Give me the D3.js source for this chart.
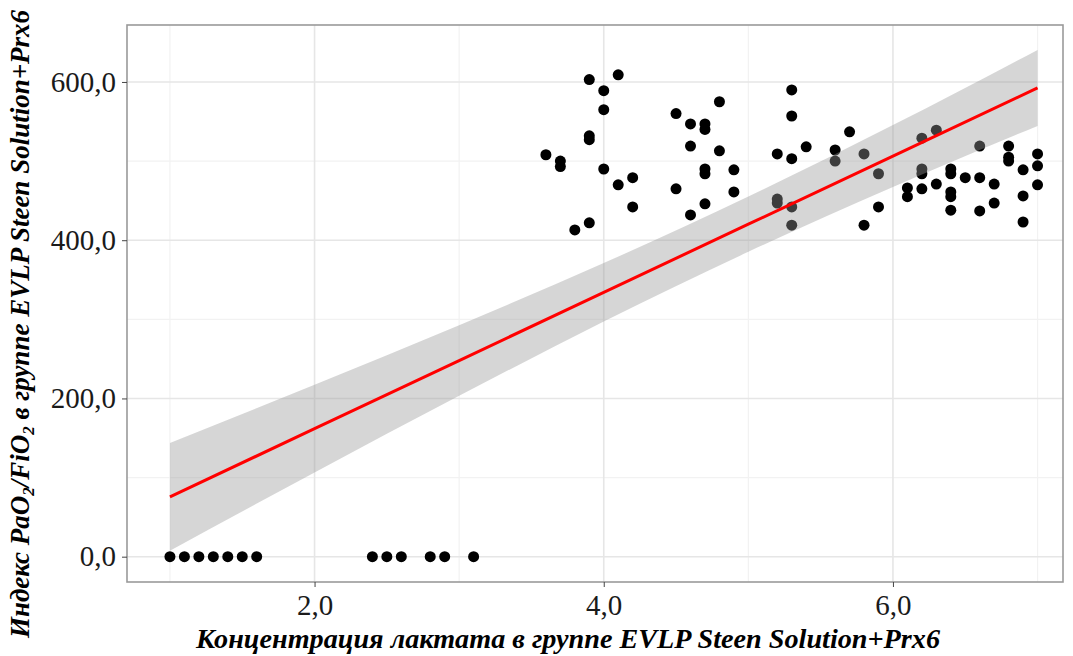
<!DOCTYPE html>
<html><head><meta charset="utf-8">
<script src="https://cdn.jsdelivr.net/npm/d3@7"></script>
<style>body{margin:0;background:#fff}</style>
</head><body>
<svg id="c" width="1073" height="656"></svg>
<script>
// Lactate concentration (x) and PaO2/FiO2 index (y)
const lactate = [
 1.0,1.1,1.2,1.3,1.4,1.5,1.6, 2.4,2.5,2.6, 2.8,2.9, 3.1,
 3.9,4.1,4.0,4.0,3.9,3.9,3.6,3.7,3.7,4.0,4.1,4.2,4.2,3.9,3.8,
 4.8,4.5,4.6,4.7,4.7,4.6,4.8,4.7,4.7,4.9,4.5,4.9,4.7,4.6,
 5.3,5.3,5.7,5.4,5.2,5.3,5.6,5.6,5.8,5.9,5.2,5.2,5.3,5.9,5.3,5.8,
 6.2,6.3,6.2,6.2,6.4,6.4,6.5,6.1,6.1,6.2,6.3,6.4,6.4,6.4,
 6.6,6.8,6.8,6.8,7.0,7.0,6.9,6.6,6.7,7.0,6.7,6.6,6.9,6.9
];
const pfIndex = [
 0,0,0,0,0,0,0, 0,0,0, 0,0, 0,
 603,609,589,565,532,527,508,500,493,490,470,479,442,422,413,
 575,560,547,547,540,519,513,490,484,489,465,461,446,432,
 590,557,537,518,509,503,514,500,509,484,452,447,442,442,419,419,
 529,539,490,484,490,484,479,466,455,465,471,461,455,438,
 519,519,505,500,509,494,489,479,471,470,447,437,456,423
];
// fitted regression line and 95% confidence band
const fitX  = [1, 2, 3, 4, 5, 6, 7];
const fitY  = [75.6, 161.8, 247.9, 334.1, 420.2, 506.4, 592.5];
const bandLo = [7.6, 106.4, 203.3, 297.1, 385.3, 467.3, 544.5];
const bandHi = [143.6, 217.2, 292.5, 371.1, 455.1, 545.5, 640.5];
const xTicks = [2, 4, 6];
const yTicks = [0, 200, 400, 600];
const xMinor = [1, 3, 5, 7];
const yMinor = [100, 300, 500];
const fmt = d => d.toFixed(1).replace('.', ',');

const svg = d3.select('#c');
const L = 127, R = 1063, T = 25, B = 582;
const x = d3.scaleLinear().domain([0.703, 7.176]).range([L, R]);
const y = d3.scaleLinear().domain([-32, 672]).range([B, T]);

const g = svg.append('g');
// grid
g.selectAll('.vmin').data(xMinor).join('line')
 .attr('x1', d => x(d)).attr('x2', d => x(d)).attr('y1', T).attr('y2', B)
 .attr('stroke', '#f2f2f2').attr('stroke-width', 1.2);
g.selectAll('.hmin').data(yMinor).join('line')
 .attr('x1', L).attr('x2', R).attr('y1', d => y(d)).attr('y2', d => y(d))
 .attr('stroke', '#f2f2f2').attr('stroke-width', 1.2);
g.selectAll('.vmaj').data(xTicks).join('line')
 .attr('x1', d => x(d)).attr('x2', d => x(d)).attr('y1', T).attr('y2', B)
 .attr('stroke', '#e6e6e6').attr('stroke-width', 1.6);
g.selectAll('.hmaj').data(yTicks).join('line')
 .attr('x1', L).attr('x2', R).attr('y1', d => y(d)).attr('y2', d => y(d))
 .attr('stroke', '#e6e6e6').attr('stroke-width', 1.6);

// points
g.selectAll('circle').data(lactate.map((v, i) => [v, pfIndex[i]])).join('circle')
 .attr('cx', d => x(d[0])).attr('cy', d => y(d[1])).attr('r', 5.5).attr('fill', '#000');

// band
const band = fitX.map((v, i) => [v, bandLo[i], bandHi[i]]);
g.append('path').datum(band)
 .attr('d', d3.area().x(d => x(d[0])).y0(d => y(d[1])).y1(d => y(d[2])).curve(d3.curveMonotoneX))
 .attr('fill', '#999999').attr('fill-opacity', 0.4);
// line
g.append('path').datum(fitX.map((v, i) => [v, fitY[i]]))
 .attr('d', d3.line().x(d => x(d[0])).y(d => y(d[1])))
 .attr('fill', 'none').attr('stroke', '#ff0000').attr('stroke-width', 3);

// panel border
g.append('rect').attr('x', L).attr('y', T).attr('width', R - L).attr('height', B - T)
 .attr('fill', 'none').attr('stroke', '#9a9a9a').attr('stroke-width', 1.6);

// axes
const xa = svg.append('g').attr('transform', `translate(0,${B})`)
 .call(d3.axisBottom(x).tickValues(xTicks).tickFormat(fmt).tickSize(5).tickPadding(7));
const ya = svg.append('g').attr('transform', `translate(${L},0)`)
 .call(d3.axisLeft(y).tickValues(yTicks).tickFormat(fmt).tickSize(5).tickPadding(6));
[xa, ya].forEach(a => {
  a.select('.domain').remove();
  a.selectAll('line').attr('stroke', '#444');
  a.selectAll('text').attr('font-family', 'Liberation Serif').attr('font-size', 29).attr('fill', '#1a1a1a');
});

// titles
svg.append('text').attr('x', 568).attr('y', 648).attr('text-anchor', 'middle')
 .attr('font-family', 'Liberation Serif').attr('font-size', 28).attr('font-weight', 'bold').attr('font-style', 'italic')
 .attr('textLength', 744).attr('lengthAdjust', 'spacingAndGlyphs')
 .text('Концентрация лактата в группе EVLP Steen Solution+Prx6');

const yt = svg.append('text').attr('transform', 'translate(29,324) rotate(-90)').attr('text-anchor', 'middle')
 .attr('font-family', 'Liberation Serif').attr('font-size', 27).attr('font-weight', 'bold').attr('font-style', 'italic');
yt.append('tspan').text('Индекс PaO');
yt.append('tspan').attr('font-size', 17).attr('dy', 5).text('2');
yt.append('tspan').attr('dy', -5).text('/FiO');
yt.append('tspan').attr('font-size', 17).attr('dy', 5).text('2');
yt.append('tspan').attr('dy', -5).text(' в группе EVLP Steen Solution+Prx6');
</script>
</body></html>
